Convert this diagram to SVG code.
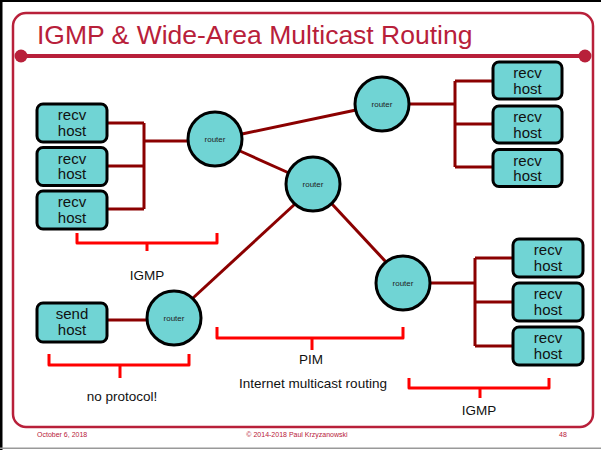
<svg xmlns="http://www.w3.org/2000/svg" width="601" height="450" viewBox="0 0 601 450">
<style>
.frame{fill:none;stroke:#B8203A;stroke-width:2.5}
.host rect{fill:#70D4D4;stroke:#000;stroke-width:3}
.host text{font-family:"Liberation Sans",Arial,sans-serif;font-size:15px;fill:#111;text-anchor:middle}
.router circle{fill:#70D4D4;stroke:#000;stroke-width:3}
.router text{font-family:"Liberation Sans",Arial,sans-serif;font-size:8px;fill:#222;text-anchor:middle}
.conn path{fill:none;stroke:#8B0000;stroke-width:3}
.br path{fill:none;stroke:#FF0000;stroke-width:3;stroke-linejoin:round}
.lbl{font-family:"Liberation Sans",Arial,sans-serif;font-size:13.5px;fill:#111;text-anchor:middle}
.foot{font-family:"Liberation Sans",Arial,sans-serif;font-size:7px;fill:#B8203A}
</style>
<rect x="0" y="0" width="601" height="450" fill="#fff"/>
<rect x="0" y="0" width="2.5" height="450" fill="#000"/>
<rect x="0" y="0" width="601" height="2" fill="#000"/>
<rect x="0" y="447.5" width="601" height="1.5" fill="#999"/>
<rect class="frame" x="13" y="13" width="580" height="414" rx="13"/>
<line x1="21" y1="56" x2="585" y2="56" stroke="#B8203A" stroke-width="4"/>
<circle cx="21" cy="56" r="6.5" fill="#B8203A"/>
<circle cx="585" cy="56" r="6.5" fill="#B8203A"/>
<text x="37" y="44" font-family="Liberation Sans,Arial,sans-serif" font-size="26.5" fill="#B8203A">IGMP &amp; Wide-Area Multicast Routing</text>

<g class="conn">
<path d="M107,123 H144 M107,166 H144 M107,209 H144 M144,123 V209 M144,141 H188"/>
<path d="M410,104 H455 M455,81 V167 M455,81 H493 M455,124 H493 M455,167 H493"/>
<path d="M430,283 H475 M475,258 V346 M475,258 H513 M475,302 H513 M475,346 H513"/>
<path d="M107,320 H148"/>
<path d="M242,134 L356,110"/>
<path d="M240,151 L289,173"/>
<path d="M295,204 L193,298"/>
<path d="M332,204 L386,262"/>
</g>

<g id="h1" class="host"><rect x="37" y="104" width="70" height="38" rx="6"/><text x="72" y="120">recv</text><text x="72" y="135.5">host</text></g>
<g id="h2" class="host"><rect x="37" y="147.5" width="70" height="38" rx="6"/><text x="72" y="163.5">recv</text><text x="72" y="179">host</text></g>
<g id="h3" class="host"><rect x="37" y="191" width="70" height="38" rx="6"/><text x="72" y="207">recv</text><text x="72" y="222.5">host</text></g>
<g id="h4" class="host"><rect x="493" y="62" width="69" height="37" rx="6"/><text x="527.5" y="78">recv</text><text x="527.5" y="93.5">host</text></g>
<g id="h5" class="host"><rect x="493" y="106" width="69" height="37" rx="6"/><text x="527.5" y="122">recv</text><text x="527.5" y="137.5">host</text></g>
<g id="h6" class="host"><rect x="493" y="149.5" width="69" height="37" rx="6"/><text x="527.5" y="165.5">recv</text><text x="527.5" y="181">host</text></g>
<g id="h7" class="host"><rect x="513" y="239" width="70" height="38" rx="6"/><text x="548" y="255">recv</text><text x="548" y="270.5">host</text></g>
<g id="h8" class="host"><rect x="513" y="283" width="70" height="38" rx="6"/><text x="548" y="299">recv</text><text x="548" y="314.5">host</text></g>
<g id="h9" class="host"><rect x="513" y="327" width="70" height="38" rx="6"/><text x="548" y="343">recv</text><text x="548" y="358.5">host</text></g>
<g id="send" class="host"><rect x="37" y="303" width="70" height="39" rx="6"/><text x="72" y="319">send</text><text x="72" y="334.5">host</text></g>

<g id="r1" class="router"><circle cx="215" cy="139" r="27"/><text x="215" y="141.5">router</text></g>
<g id="r2" class="router"><circle cx="382" cy="104" r="27"/><text x="382" y="106.5">router</text></g>
<g id="r3" class="router"><circle cx="313" cy="184" r="27"/><text x="313" y="186.5">router</text></g>
<g id="r4" class="router"><circle cx="403" cy="283" r="27"/><text x="403" y="285.5">router</text></g>
<g id="r5" class="router"><circle cx="174" cy="318" r="27"/><text x="174" y="320.5">router</text></g>

<g class="br">
<path d="M77,233 V243 H217 V233 M147,243 V251"/>
<path d="M49,354 V365 H189 V354 M120,365 V378"/>
<path d="M217,327 V338 H403 V327 M312,338 V350"/>
<path d="M409,378 V388 H549 V378 M480,388 V398"/>
</g>
<text class="lbl" x="147" y="280">IGMP</text>
<text class="lbl" x="122" y="401">no protocol!</text>
<text class="lbl" x="311" y="364">PIM</text>
<text class="lbl" x="313" y="388">Internet multicast routing</text>
<text class="lbl" x="479" y="415">IGMP</text>

<text class="foot" x="37" y="437">October 6, 2018</text>
<text class="foot" x="297" y="437" text-anchor="middle">© 2014-2018 Paul Krzyzanowski</text>
<text class="foot" x="559" y="437">48</text>
</svg>
